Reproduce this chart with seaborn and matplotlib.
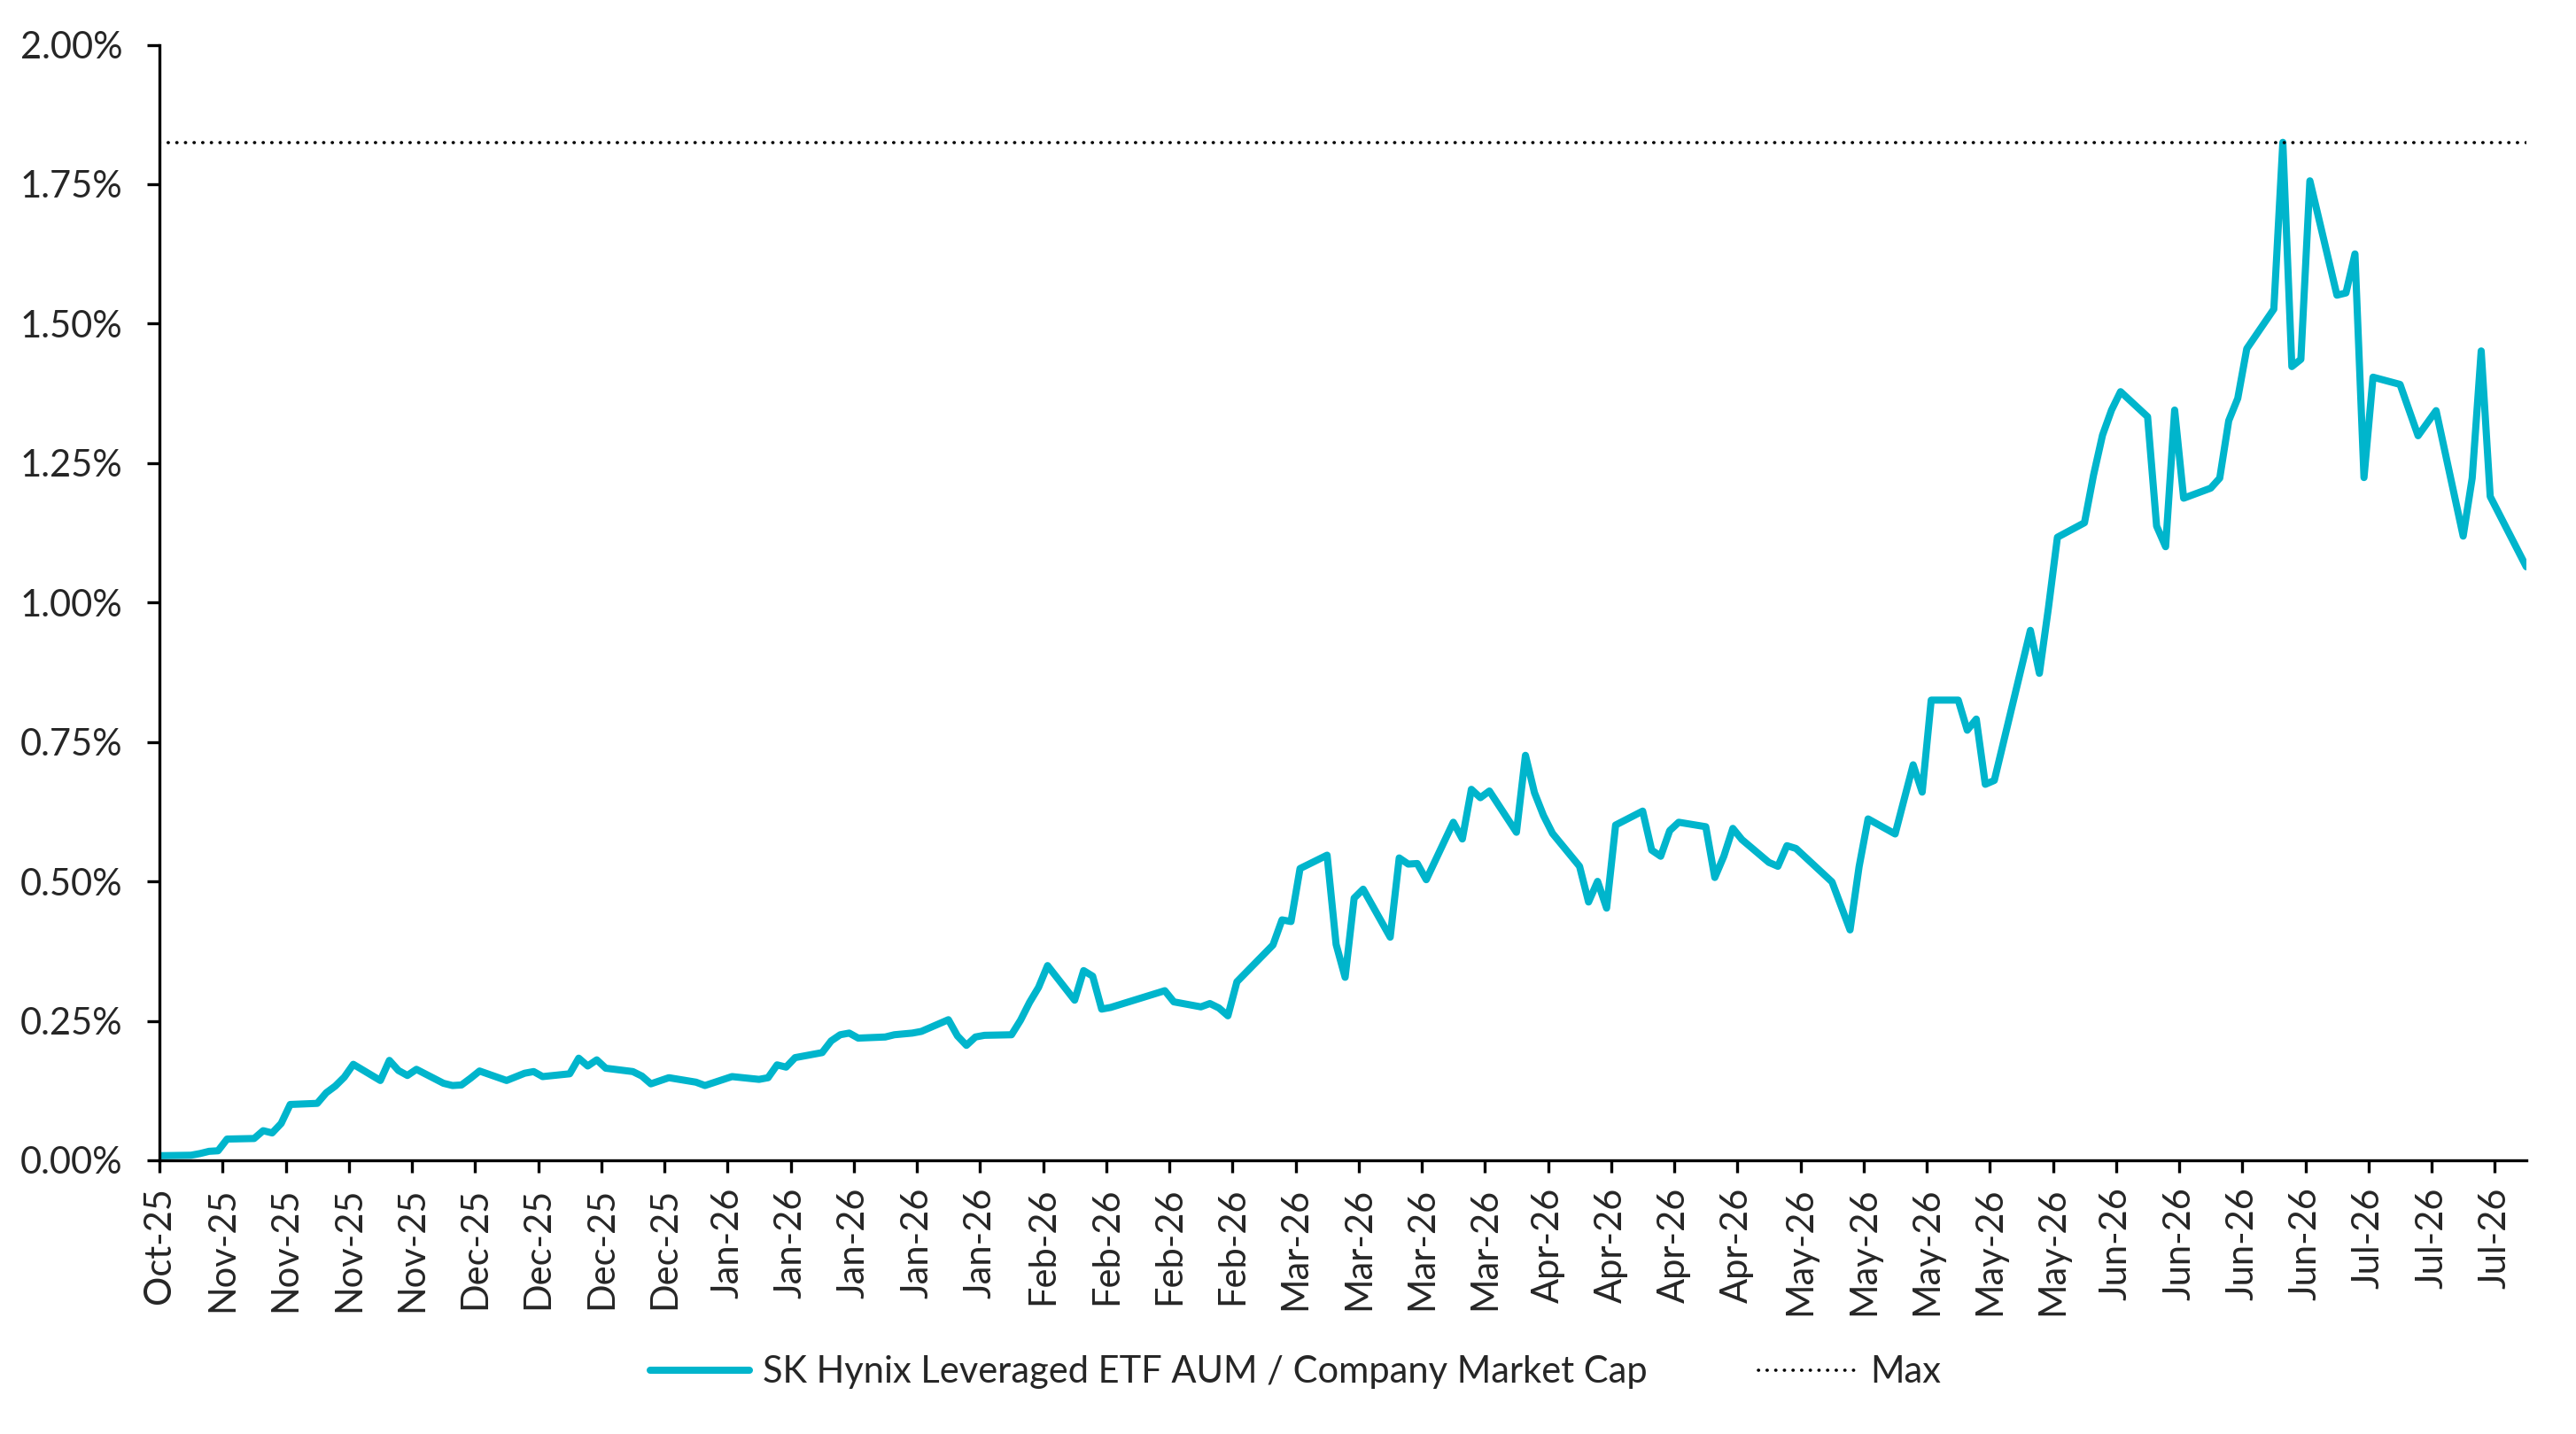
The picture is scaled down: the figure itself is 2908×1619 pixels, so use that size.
import pandas as pd
import matplotlib.pyplot as plt
import matplotlib.dates as mdates
from matplotlib.ticker import FuncFormatter
import seaborn as sns

# Trading days (ETF AUM as % of company market cap)
dates = [
    "2025-10-30", "2025-11-03", "2025-11-04", "2025-11-05", "2025-11-06", "2025-11-07",
    "2025-11-10", "2025-11-11", "2025-11-12", "2025-11-13", "2025-11-14",
    "2025-11-17", "2025-11-18", "2025-11-19", "2025-11-20", "2025-11-21",
    "2025-11-24", "2025-11-25", "2025-11-26", "2025-11-27", "2025-11-28",
    "2025-12-01", "2025-12-02", "2025-12-03", "2025-12-04", "2025-12-05",
    "2025-12-08", "2025-12-10", "2025-12-11", "2025-12-12",
    "2025-12-15", "2025-12-16", "2025-12-17", "2025-12-18", "2025-12-19",
    "2025-12-22", "2025-12-23", "2025-12-24", "2025-12-26",
    "2025-12-29", "2025-12-30", "2026-01-02",
    "2026-01-05", "2026-01-06", "2026-01-07", "2026-01-08", "2026-01-09",
    "2026-01-12", "2026-01-13", "2026-01-14", "2026-01-15", "2026-01-16",
    "2026-01-19", "2026-01-20", "2026-01-22", "2026-01-23",
    "2026-01-26", "2026-01-27", "2026-01-28", "2026-01-29", "2026-01-30",
    "2026-02-02", "2026-02-03", "2026-02-04", "2026-02-05", "2026-02-06",
    "2026-02-09", "2026-02-10", "2026-02-11", "2026-02-12", "2026-02-13",
    "2026-02-19", "2026-02-20",
    "2026-02-23", "2026-02-24", "2026-02-25", "2026-02-26", "2026-02-27",
    "2026-03-03", "2026-03-04", "2026-03-05", "2026-03-06",
    "2026-03-09", "2026-03-10", "2026-03-11", "2026-03-12", "2026-03-13",
    "2026-03-16", "2026-03-17", "2026-03-18", "2026-03-19", "2026-03-20",
    "2026-03-23", "2026-03-24", "2026-03-25", "2026-03-26", "2026-03-27",
    "2026-03-30", "2026-03-31", "2026-04-01", "2026-04-02", "2026-04-03",
    "2026-04-06", "2026-04-07", "2026-04-08", "2026-04-09", "2026-04-10",
    "2026-04-13", "2026-04-14", "2026-04-15", "2026-04-16", "2026-04-17",
    "2026-04-20", "2026-04-21", "2026-04-22", "2026-04-23", "2026-04-24",
    "2026-04-27", "2026-04-28", "2026-04-29", "2026-04-30",
    "2026-05-04", "2026-05-06", "2026-05-07", "2026-05-08",
    "2026-05-11", "2026-05-13", "2026-05-14", "2026-05-15",
    "2026-05-18", "2026-05-19", "2026-05-20", "2026-05-21", "2026-05-22",
    "2026-05-26", "2026-05-27", "2026-05-28", "2026-05-29",
    "2026-06-01", "2026-06-02", "2026-06-03", "2026-06-04", "2026-06-05",
    "2026-06-08", "2026-06-09", "2026-06-10", "2026-06-11", "2026-06-12",
    "2026-06-15", "2026-06-16", "2026-06-17", "2026-06-18", "2026-06-19",
    "2026-06-22", "2026-06-23", "2026-06-24", "2026-06-25", "2026-06-26",
    "2026-06-29", "2026-06-30", "2026-07-01", "2026-07-02", "2026-07-03",
    "2026-07-06", "2026-07-08", "2026-07-10",
    "2026-07-13", "2026-07-14", "2026-07-15", "2026-07-16", "2026-07-20",
]

ratio_pct = [
    0.008, 0.009, 0.012, 0.016, 0.017, 0.038,
    0.039, 0.053, 0.049, 0.066, 0.100,
    0.102, 0.121, 0.133, 0.149, 0.172,
    0.143, 0.179, 0.161, 0.152, 0.163,
    0.138, 0.134, 0.135, 0.147, 0.160,
    0.143, 0.156, 0.159, 0.150,
    0.155, 0.183, 0.169, 0.180, 0.165,
    0.159, 0.151, 0.137, 0.148,
    0.140, 0.134, 0.150,
    0.145, 0.148, 0.171, 0.167, 0.184,
    0.193, 0.214, 0.225, 0.228, 0.219,
    0.221, 0.225, 0.228, 0.231,
    0.252, 0.223, 0.206, 0.221, 0.224,
    0.225, 0.251, 0.283, 0.310, 0.349,
    0.287, 0.340, 0.330, 0.271, 0.274,
    0.304, 0.284,
    0.275, 0.281, 0.273, 0.259, 0.320,
    0.386, 0.431, 0.428, 0.523,
    0.547, 0.387, 0.328, 0.470, 0.486,
    0.400, 0.542, 0.531, 0.532, 0.503,
    0.606, 0.576, 0.665, 0.650, 0.662,
    0.588, 0.726, 0.659, 0.618, 0.586,
    0.527, 0.463, 0.500, 0.452, 0.601,
    0.626, 0.556, 0.545, 0.591, 0.606,
    0.598, 0.507, 0.545, 0.595, 0.575,
    0.534, 0.527, 0.564, 0.559,
    0.499, 0.413, 0.526, 0.612,
    0.585, 0.709, 0.660, 0.825,
    0.825, 0.771, 0.791, 0.674, 0.681,
    0.950, 0.873, 0.990, 1.117,
    1.143, 1.228, 1.300, 1.345, 1.378,
    1.333, 1.137, 1.100, 1.345, 1.187,
    1.205, 1.223, 1.326, 1.366, 1.455,
    1.526, 1.825, 1.423, 1.436, 1.756,
    1.551, 1.555, 1.625, 1.224, 1.404,
    1.391, 1.299, 1.344,
    1.119, 1.223, 1.451, 1.190, 1.064,
]

y_ticks = [0.0, 0.25, 0.50, 0.75, 1.00, 1.25, 1.50, 1.75, 2.00]
series_label = "SK Hynix Leveraged ETF AUM / Company Market Cap"
line_color = "#00B5CC"

df = pd.DataFrame({"Date": pd.to_datetime(dates), "Ratio": ratio_pct})
# date axis puts each point in the middle of its day
df["Date"] = df["Date"] + pd.Timedelta(hours=12)

sns.set_style("white")
plt.rcParams["font.family"] = ["Lato", "DejaVu Sans"]

fig = plt.figure(figsize=(14.54, 8.095), dpi=200)
ax = fig.add_axes([0.0619, 0.1909, 0.9188, 0.7779])

sns.lineplot(data=df, x="Date", y="Ratio", color=line_color, linewidth=2.9,
             solid_capstyle="round", label=series_label, ax=ax)
ax.axhline(df["Ratio"].max(), color="black", linewidth=1.3,
           linestyle=(0, (0.1, 2.6)), dash_capstyle="round", label="Max")

# axes
ax.set_ylim(0, 2.0)
ax.set_yticks(y_ticks)
ax.yaxis.set_major_formatter(FuncFormatter(lambda v, _: f"{v:.2f}%"))
ax.set_xlim(pd.Timestamp("2025-10-31"), df["Date"].iloc[-1])
ax.set_xticks(pd.date_range("2025-10-31", periods=38, freq="7D"))
ax.xaxis.set_major_formatter(mdates.DateFormatter("%b-%y"))
ax.set_xlabel("")
ax.set_ylabel("")

for side in ["top", "right"]:
    ax.spines[side].set_visible(False)
for side in ["left", "bottom"]:
    ax.spines[side].set_color("black")
    ax.spines[side].set_linewidth(1.2)

ax.tick_params(axis="both", direction="out", length=5, width=1.2,
               color="black", labelsize=15, bottom=True, left=True)
ax.tick_params(axis="y", pad=10)
ax.tick_params(axis="x", rotation=90, pad=6)

handles, labels = ax.get_legend_handles_labels()
ax.get_legend().remove()
fig.legend(handles, labels, loc="center", bbox_to_anchor=(0.503, 0.043), ncol=2,
           frameon=False, fontsize=15, handlelength=2.7, handletextpad=0.35,
           columnspacing=3.0)

fig.savefig("out.png", dpi=200)
